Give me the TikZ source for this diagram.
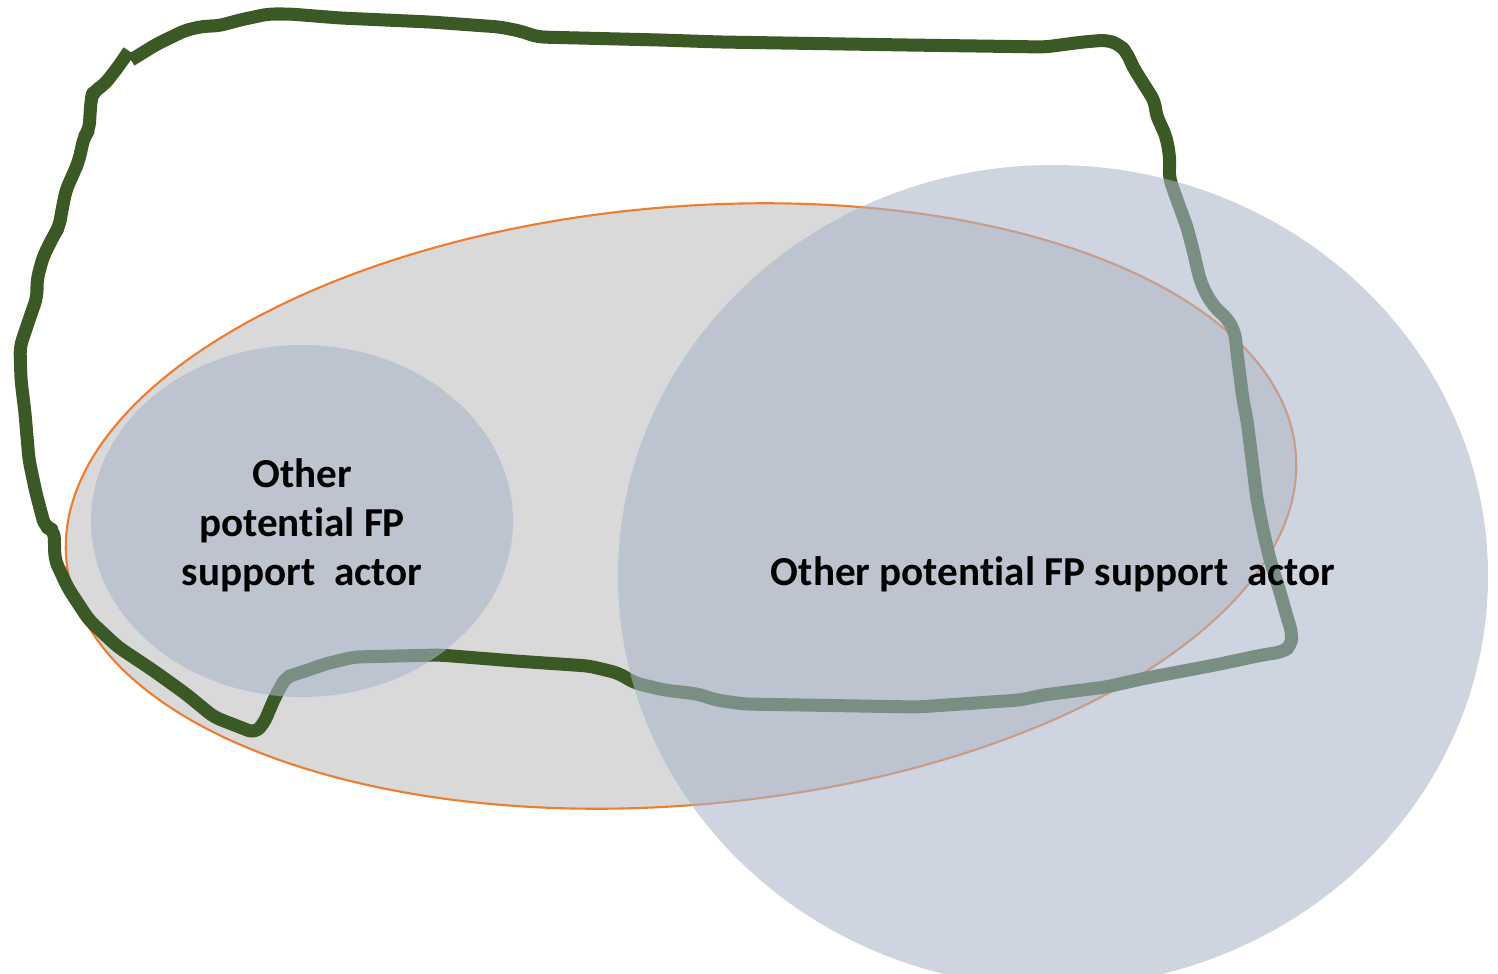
\documentclass[tikz,border=0pt]{standalone}
\usepackage{fontspec}
\setmainfont{Carlito}[Ligatures=NoCommon]
\begin{document}
\begin{tikzpicture}[x=0.01cm, y=-0.01cm,
  fieldzone/.style={fill={rgb,255:red,217;green,217;blue,217}, draw={rgb,255:red,237;green,125;blue,49}, line width=0.6pt},
  actorzone/.style={fill={rgb,255:red,170;green,181;blue,202}, fill opacity=0.58},
  boundary/.style={draw={rgb,255:red,59;green,89;blue,36}, line width=0.13cm, line cap=butt, line join=round, rounded corners=2pt},
  actorlabel/.style={font=\fontsize{11.7}{13.95}\selectfont\bfseries, text=black, inner sep=0pt, align=center}]
\useasboundingbox (0,0) rectangle (1498,973);
\clip (0,0) rectangle (1498,973);

% wide tilted field (grey with orange rim)
\path[fieldzone, rotate around={5:(681,506)}] (681,506) ellipse [x radius=617, y radius=299];

% hand-drawn boundary line
\draw[boundary] (131,60) -- (157,44) -- (186,30) -- (205,26) -- (218,26) -- (240,20) -- (268,14)
  -- (290,14) -- (340,18) -- (430,22) -- (500,27) -- (520,31) -- (538,37) -- (660,40) -- (720,42)
  -- (907,45) -- (1045,47) -- (1083,42) -- (1107,40) -- (1120,45) -- (1127,53) -- (1133,67)
  -- (1143,83) -- (1155,102) -- (1156,115) -- (1162,127) -- (1167,140) -- (1170,160) -- (1169,177)
  -- (1177,200) -- (1187,227) -- (1193,250) -- (1200,280) -- (1207,296) -- (1217,310) -- (1227,318)
  -- (1235,333) -- (1237,353) -- (1243,400) -- (1247,420) -- (1252,460) -- (1257,500) -- (1263,530)
  -- (1270,560) -- (1280,592) -- (1287,617) -- (1292,633) -- (1291,646) -- (1282,652) -- (1262,655)
  -- (1215,665) -- (1146,678) -- (1106,687) -- (1043,695) -- (1020,700) -- (917,707) -- (744,704)
  -- (716,700) -- (698,694) -- (664,690) -- (635,683) -- (618,673) -- (589,666) -- (515,661)
  -- (440,655) -- (354,657) -- (325,664) -- (311,669) -- (296,674) -- (286,677) -- (275,697)
  -- (264,723) -- (255,733) -- (214,717) -- (186,694) -- (154,671) -- (118,647) -- (89,620)
  -- (68,588) -- (55,560) -- (54,530) -- (45,527) -- (36,493) -- (29,460) -- (25,413) -- (21,380)
  -- (20,347) -- (29,320) -- (37,297) -- (37,280) -- (43,257) -- (54,235) -- (59,227) -- (62,210)
  -- (66,190) -- (75,170) -- (79,160) -- (84,137) -- (89,130) -- (91,100) -- (93,92) -- (104,85)
  -- (118,67) -- (129,51);

% translucent actor zones
\path[actorzone] (302,521) ellipse [x radius=211, y radius=176];
\path[actorzone] (1053,576) ellipse [x radius=435, y radius=411];

% labels (kern keeps t and i as separate glyphs)
\node[actorlabel] (smallactor) at (302,525) {Other\\poten\kern0pt tial FP\\support\ \ actor};
\node[actorlabel, anchor=base] (largeactor) at (1053,585) {Other poten\kern0pt tial FP support\ \ actor};
\end{tikzpicture}
\end{document}
